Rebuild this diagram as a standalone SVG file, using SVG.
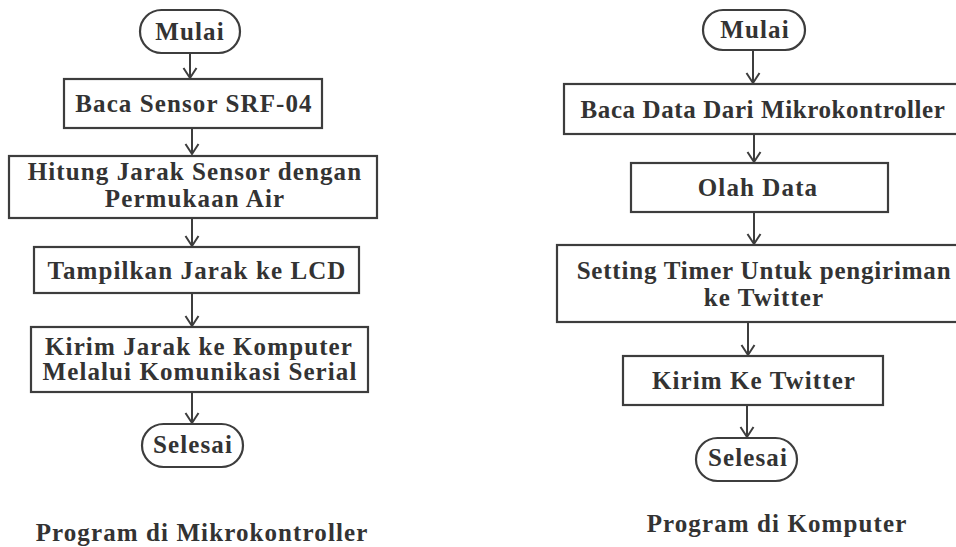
<svg xmlns="http://www.w3.org/2000/svg" width="956" height="547" viewBox="0 0 956 547">
<style>
.box{fill:#fff;stroke:#3d3d3d;stroke-width:2.2}
.t,.cap{font-family:"Liberation Serif","Times New Roman",serif;font-weight:bold;font-size:25px;letter-spacing:1.1px;fill:#333;text-anchor:middle}
.c line,.c path{stroke:#3d3d3d;stroke-width:2;fill:none}
</style>
<rect width="956" height="547" fill="#fff"/>
<g class="c" id="connectors">
<line x1="190" y1="53" x2="190" y2="78"/><path d="M183.5,68 L190,78 L196.5,68"/>
<line x1="192" y1="128" x2="192" y2="154"/><path d="M185.5,144 L192,154 L198.5,144"/>
<line x1="192" y1="218" x2="192" y2="246"/><path d="M185.5,236 L192,246 L198.5,236"/>
<line x1="192" y1="293" x2="192" y2="326"/><path d="M185.5,316 L192,326 L198.5,316"/>
<line x1="192" y1="392" x2="192" y2="423"/><path d="M185.5,413 L192,423 L198.5,413"/>
<line x1="753" y1="50" x2="753" y2="83"/><path d="M746.5,73 L753,83 L759.5,73"/>
<line x1="754" y1="134" x2="754" y2="162"/><path d="M747.5,152 L754,162 L760.5,152"/>
<line x1="754" y1="212" x2="754" y2="244"/><path d="M747.5,234 L754,244 L760.5,234"/>
<line x1="748" y1="322" x2="748" y2="355"/><path d="M741.5,345 L748,355 L754.5,345"/>
<line x1="747" y1="405" x2="747" y2="437"/><path d="M740.5,427 L747,437 L753.5,427"/>
</g>
<g id="l-mulai"><rect class="box" x="140" y="10" width="100" height="43" rx="21.5"/><text class="t" x="190" y="40">Mulai</text></g>
<g id="l-baca"><rect class="box" x="64" y="79" width="258" height="49"/><text class="t" x="194" y="112">Baca Sensor SRF-04</text></g>
<g id="l-hitung"><rect class="box" x="9" y="156" width="368" height="62"/><text class="t" x="195" y="180">Hitung Jarak Sensor dengan</text><text class="t" x="195" y="207">Permukaan Air</text></g>
<g id="l-tampil"><rect class="box" x="34" y="247" width="325" height="46"/><text class="t" x="197" y="279">Tampilkan Jarak ke LCD</text></g>
<g id="l-kirim"><rect class="box" x="31" y="327" width="337" height="65"/><text class="t" x="199" y="355">Kirim Jarak ke Komputer</text><text class="t" x="200" y="380">Melalui Komunikasi Serial</text></g>
<g id="l-selesai"><rect class="box" x="142" y="424" width="101" height="43" rx="21.5"/><text class="t" x="193" y="453">Selesai</text></g>
<g id="l-caption"><text class="cap" x="202" y="541">Program di Mikrokontroller</text></g>
<g id="r-mulai"><rect class="box" x="703" y="10" width="102" height="40" rx="20"/><text class="t" x="755" y="38">Mulai</text></g>
<g id="r-baca"><rect class="box" x="564" y="84" width="410" height="50"/><text class="t" x="763" y="118" style="letter-spacing:0.6px">Baca Data Dari Mikrokontroller</text></g>
<g id="r-olah"><rect class="box" x="631" y="163" width="257" height="49"/><text class="t" x="758" y="196">Olah Data</text></g>
<g id="r-setting"><rect class="box" x="557" y="245" width="414" height="77"/><text class="t" x="764" y="279" style="letter-spacing:0.8px">Setting Timer Untuk pengiriman</text><text class="t" x="764" y="306">ke Twitter</text></g>
<g id="r-kirim"><rect class="box" x="623" y="356" width="260" height="49"/><text class="t" x="754" y="389">Kirim Ke Twitter</text></g>
<g id="r-selesai"><rect class="box" x="696" y="438" width="101" height="43" rx="21.5"/><text class="t" x="748" y="466">Selesai</text></g>
<g id="r-caption"><text class="cap" x="777" y="532">Program di Komputer</text></g>
</svg>
